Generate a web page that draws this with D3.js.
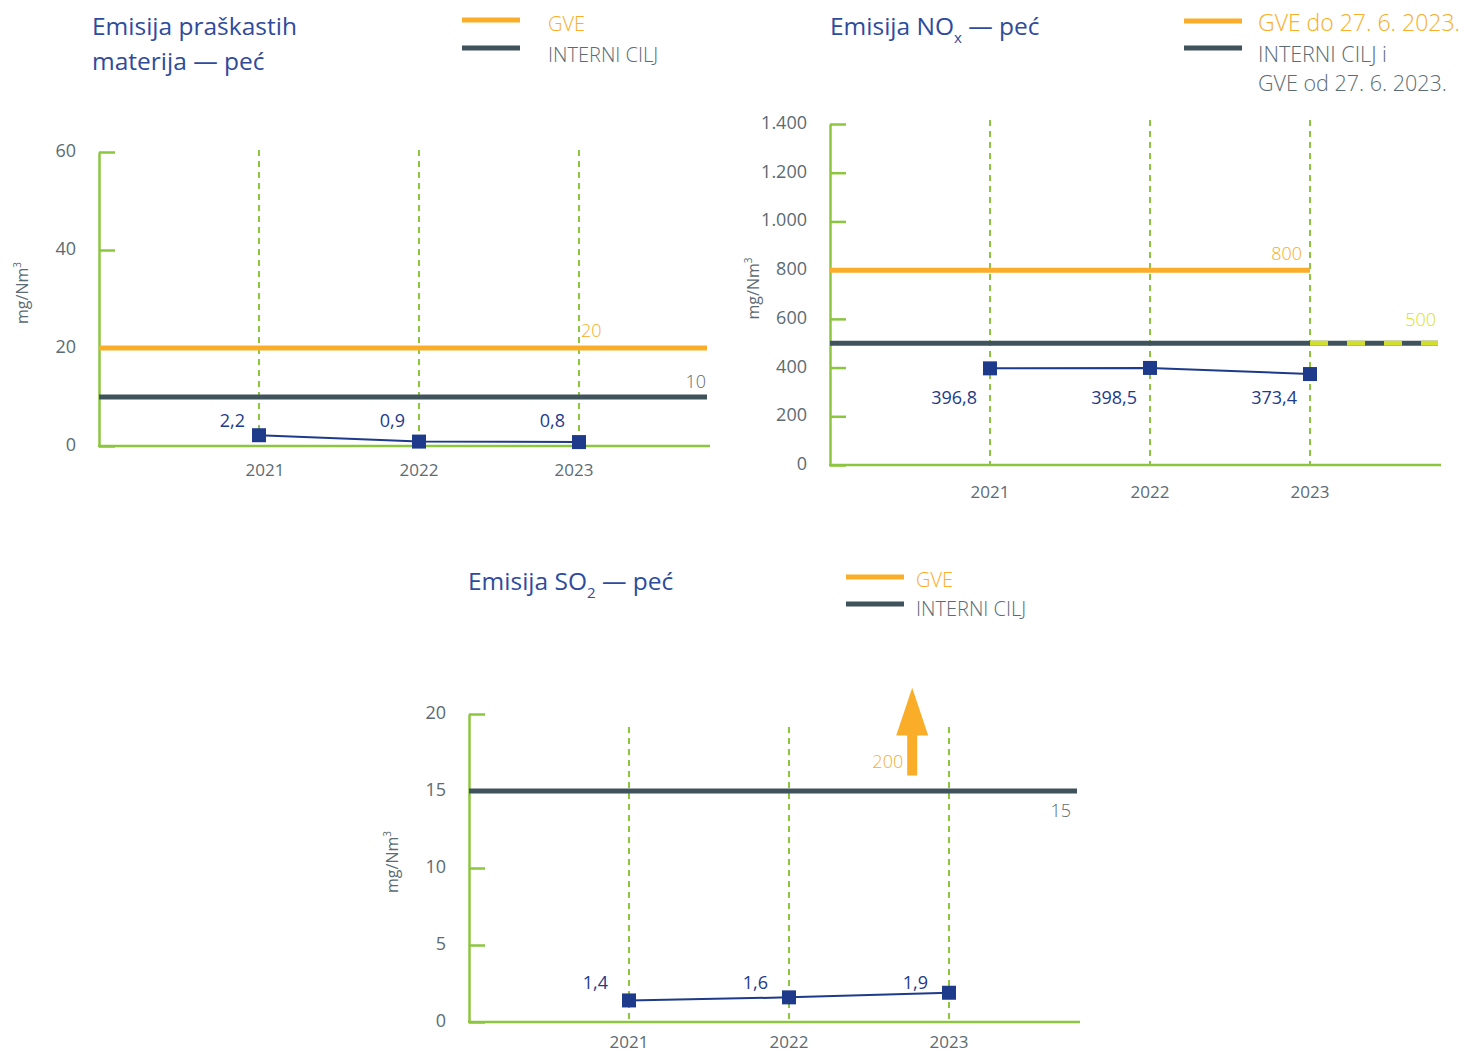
<!DOCTYPE html>
<html><head><meta charset="utf-8">
<script src="https://cdn.jsdelivr.net/npm/d3@7"></script>
<style>
body{margin:0;background:#fff;}
text{font-family:"Open Sans",sans-serif;}
</style></head>
<body><svg id="c" width="1468" height="1052"></svg>
<script>
// ---- data ----
const years = ["2021","2022","2023"];
const dustValues = [2.2, 0.9, 0.8];
const dustTicks = [0, 20, 40, 60];
const dustGVE = 20, dustInternal = 10;
const noxValues = [396.8, 398.5, 373.4];
const noxTicks = [0, 200, 400, 600, 800, 1000, 1200, 1400];
const noxGVEOld = 800, noxInternal = 500;
const so2Values = [1.4, 1.6, 1.9];
const so2Ticks = [0, 5, 10, 15, 20];
const so2GVE = 200, so2Internal = 15;

const C = {orange:"#f9ad28", slate:"#3e535b", green:"#8cc63f", navy:"#1e3a8a", lime:"#d2df2a", gray:"#5b6b73", title:"#2e4b9c"};
const loc = d3.formatLocale({decimal:",", thousands:".", grouping:[3], currency:["","€"]});
const fmtTick = loc.format(",d"), fmtVal = loc.format(".1f");
const svg = d3.select("#c");

function chart(o){
  const g = svg.append("g");
  const x = d3.scaleLinear().domain([-1, 2.8]).range([o.x0, o.x0 + 3.8*160]);
  const y = d3.scaleLinear().domain([0, o.max]).range([o.yb, o.yt]);
  const xEnd = x(2.8);
  years.forEach((yr,i)=>{
    g.append("line").attr("x1",x(i)).attr("x2",x(i)).attr("y1",o.dashTop).attr("y2",y(0))
      .attr("stroke",C.green).attr("stroke-width",2).attr("stroke-dasharray","6,5");
    g.append("text").attr("x",x(i)+(o.yrDx?o.yrDx[i]:0)).attr("y",y(0)+o.yrDy).attr("text-anchor","middle")
      .attr("font-size",17).attr("fill",C.gray).text(yr);
  });
  const ax = g.append("g").attr("transform",`translate(${o.x0},0)`)
    .call(d3.axisLeft(y).tickValues(o.ticks).tickFormat(fmtTick).tickSize(-16).tickSizeOuter(0).tickPadding(23));
  ax.select(".domain").attr("stroke",C.green).attr("stroke-width",2.5);
  ax.selectAll(".tick line").attr("stroke",C.green).attr("stroke-width",2.5);
  ax.selectAll(".tick text").attr("font-size",18).attr("fill",C.gray).attr("font-family","Open Sans").attr("dy","0.25em");
  g.append("line").attr("x1",o.x0-1).attr("x2",xEnd+3).attr("y1",y(0)).attr("y2",y(0))
    .attr("stroke",C.green).attr("stroke-width",2.5);
  g.append("text").attr("transform",`translate(${o.x0-71},${(y(0)+y(o.max))/2-6}) rotate(-90)`)
    .attr("text-anchor","middle").attr("font-size",16).attr("fill",C.gray)
    .text("mg/Nm").append("tspan").attr("font-size",10).attr("dy",-7).text("3");
  return {g,x,y,xEnd};
}

function legend(x0, y0, items){
  const g = svg.append("g");
  items.forEach((it)=>{
    g.append("line").attr("x1",x0).attr("x2",x0+58).attr("y1",y0+it.ly).attr("y2",y0+it.ly)
      .attr("stroke",it.color).attr("stroke-width",5);
    it.lines.forEach((t,j)=>{
      g.append("text").attr("x",x0+it.tx).attr("y",y0+it.ty+j*29).attr("font-size",it.fs||20)
        .attr("fill",it.tcolor).attr("font-weight",300).text(t);
    });
  });
}

function series(c, vals, lblDx, lblY){
  const line = d3.line().x((d,i)=>c.x(i)).y(d=>c.y(d));
  c.g.append("path").datum(vals).attr("d",line).attr("fill","none").attr("stroke",C.navy).attr("stroke-width",2);
  c.g.selectAll(".m").data(vals).join("rect").attr("x",(d,i)=>c.x(i)-7).attr("y",d=>c.y(d)-7)
    .attr("width",14).attr("height",14).attr("fill",C.navy);
  c.g.selectAll(".l").data(vals).join("text").attr("x",(d,i)=>c.x(i)+lblDx).attr("y",lblY)
    .attr("text-anchor","end").attr("font-size",18).attr("fill",C.navy).text(d=>fmtVal(d));
}

// ---- chart 1: dust ----
svg.append("text").attr("x",92).attr("y",35).attr("font-size",24.5).attr("fill",C.title).text("Emisija praškastih");
svg.append("text").attr("x",92).attr("y",70).attr("font-size",24.5).attr("fill",C.title).text("materija — peć");
legend(462, 0, [
  {color:C.orange, ly:20, tx:86, ty:31, lines:["GVE"], tcolor:C.orange},
  {color:C.slate, ly:48, tx:86, ty:62, lines:["INTERNI CILJ"], tcolor:C.gray}
]);
const c1 = chart({x0:99, yb:446, yt:152, max:60, ticks:dustTicks, dashTop:150, yrDx:[6,0,-5], yrDy:30});
c1.g.append("line").attr("x1",99).attr("x2",c1.xEnd).attr("y1",c1.y(dustGVE)).attr("y2",c1.y(dustGVE)).attr("stroke",C.orange).attr("stroke-width",5);
c1.g.append("line").attr("x1",99).attr("x2",c1.xEnd).attr("y1",c1.y(dustInternal)).attr("y2",c1.y(dustInternal)).attr("stroke",C.slate).attr("stroke-width",5);
c1.g.append("text").attr("x",c1.x(2)+2).attr("y",c1.y(dustGVE)-11).attr("font-size",18).attr("fill",C.orange).attr("font-weight",300).text(fmtTick(dustGVE));
c1.g.append("text").attr("x",c1.xEnd-1).attr("y",c1.y(dustInternal)-9).attr("text-anchor","end").attr("font-size",18).attr("fill",C.gray).attr("font-weight",300).text(fmtTick(dustInternal));
series(c1, dustValues, -14, 427);

// ---- chart 2: NOx ----
const t2 = svg.append("text").attr("x",830).attr("y",35).attr("font-size",24.5).attr("fill",C.title).text("Emisija NO");
t2.append("tspan").attr("font-size",15).attr("dy",8).text("x");
t2.append("tspan").attr("dy",-8).text(" — peć");
legend(1184, 0, [
  {color:C.orange, ly:21, tx:74, ty:31, lines:["GVE do 27. 6. 2023."], tcolor:C.orange, fs:23},
  {color:C.slate, ly:48, tx:74, ty:62, lines:["INTERNI CILJ i","GVE od 27. 6. 2023."], tcolor:C.gray, fs:21.5}
]);
const c2 = chart({x0:830, yb:465, yt:124, max:1400, ticks:noxTicks, dashTop:120, yrDy:33});
c2.g.append("line").attr("x1",830).attr("x2",c2.x(2)).attr("y1",c2.y(noxGVEOld)).attr("y2",c2.y(noxGVEOld)).attr("stroke",C.orange).attr("stroke-width",5);
c2.g.append("line").attr("x1",830).attr("x2",c2.x(2)).attr("y1",c2.y(noxInternal)).attr("y2",c2.y(noxInternal)).attr("stroke",C.slate).attr("stroke-width",5);
c2.g.append("line").attr("x1",c2.x(2)).attr("x2",c2.xEnd).attr("y1",c2.y(noxInternal)).attr("y2",c2.y(noxInternal)).attr("stroke",C.slate).attr("stroke-width",5);
c2.g.append("line").attr("x1",c2.x(2)).attr("x2",c2.xEnd).attr("y1",c2.y(noxInternal)).attr("y2",c2.y(noxInternal)).attr("stroke",C.lime).attr("stroke-width",5).attr("stroke-dasharray","18,19");
c2.g.append("text").attr("x",c2.x(2)-8).attr("y",c2.y(noxGVEOld)-10).attr("text-anchor","end").attr("font-size",18).attr("fill",C.orange).attr("font-weight",300).text(fmtTick(noxGVEOld));
c2.g.append("text").attr("x",c2.xEnd-2).attr("y",c2.y(noxInternal)-17).attr("text-anchor","end").attr("font-size",18).attr("fill",C.lime).attr("font-weight",300).text(fmtTick(noxInternal));
series(c2, noxValues, -13, 404);

// ---- chart 3: SO2 ----
const t3 = svg.append("text").attr("x",468).attr("y",590).attr("font-size",24.5).attr("fill",C.title).text("Emisija SO");
t3.append("tspan").attr("font-size",15).attr("dy",8).text("2");
t3.append("tspan").attr("dy",-8).text(" — peć");
legend(846, 556, [
  {color:C.orange, ly:21, tx:70, ty:31, lines:["GVE"], tcolor:C.orange},
  {color:C.slate, ly:48, tx:70, ty:60, lines:["INTERNI CILJ"], tcolor:C.gray}
]);
const c3 = chart({x0:469, yb:1022, yt:714, max:20, ticks:so2Ticks, dashTop:727, yrDy:26});
c3.g.append("line").attr("x1",469).attr("x2",c3.xEnd).attr("y1",c3.y(so2Internal)).attr("y2",c3.y(so2Internal)).attr("stroke",C.slate).attr("stroke-width",5);
c3.g.append("text").attr("x",c3.xEnd-6).attr("y",c3.y(so2Internal)+26).attr("text-anchor","end").attr("font-size",18).attr("fill",C.gray).attr("font-weight",300).text(fmtTick(so2Internal));
// arrow: GVE (200) lies far above the axis range
const ax3 = c3.x(1.77);
c3.g.append("path").attr("d",`M${ax3-5},${c3.y(16.0)} L${ax3-5},${c3.y(18.6)} L${ax3-16},${c3.y(18.6)} L${ax3},${c3.y(21.7)} L${ax3+16},${c3.y(18.6)} L${ax3+5},${c3.y(18.6)} L${ax3+5},${c3.y(16.0)} Z`).attr("fill",C.orange);
c3.g.append("text").attr("x",ax3-9).attr("y",c3.y(so2Internal)-23).attr("text-anchor","end").attr("font-size",18).attr("fill",C.orange).attr("font-weight",300).text(fmtTick(so2GVE));
series(c3, so2Values, -21, 989);
</script></body></html>
